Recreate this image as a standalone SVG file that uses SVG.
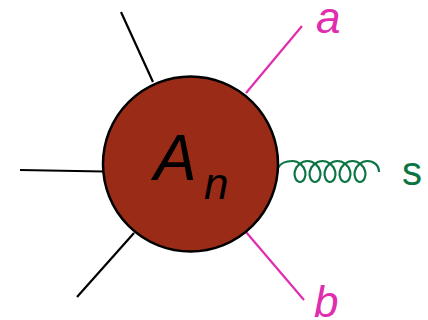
<svg xmlns="http://www.w3.org/2000/svg" width="428" height="320" viewBox="0 0 428 320">
<style>
.leg{stroke:#000;stroke-width:2.2;fill:none}
.mag{stroke:#e02db0;stroke-width:2.2;fill:none}
.glu{stroke:#0b7443;stroke-width:2.2;fill:none}
text{font-family:"Liberation Sans",Arial,sans-serif}
</style>
<rect width="428" height="320" fill="#fff"/>
<g id="connectors">
<line class="leg" x1="121" y1="12" x2="153" y2="82"/>
<line class="leg" x1="20" y1="170" x2="104" y2="171.5"/>
<line class="leg" x1="77" y1="297" x2="134" y2="233"/>
<line class="mag" x1="302" y1="26" x2="246" y2="93"/>
<line class="mag" x1="304" y1="300" x2="246" y2="232"/>
<path class="glu" d="M278,168 C281,162 287,161 292.5,161
C298.46,161 304,166 305.25,171.5 C306.5,177 303.46,182 300,182 C296.54,182 293.5,177 294.75,171.5 C296,166 301.54,161 307.5,161
C313.46,161 319,166 320.25,171.5 C321.5,177 318.46,182 315,182 C311.54,182 308.5,177 309.75,171.5 C311,166 316.54,161 322.5,161
C328.46,161 334,166 335.25,171.5 C336.5,177 333.46,182 330,182 C326.54,182 323.5,177 324.75,171.5 C326,166 331.54,161 337.5,161
C343.46,161 349,166 350.25,171.5 C351.5,177 348.46,182 345,182 C341.54,182 338.5,177 339.75,171.5 C341,166 346.54,161 352.5,161
C358.46,161 364,166 365.25,171.5 C366.5,177 363.46,182 360,182 C356.54,182 353.5,177 354.75,171.5 C356,166 361.54,161 367.5,161
C373.46,161 379,165 379,172"/>
</g>
<g id="An">
<circle cx="190.5" cy="164" r="87.5" fill="#992b17" stroke="#000" stroke-width="2.5"/>
<text x="154" y="180" font-size="64" font-style="italic" fill="#000">A</text>
<text x="204" y="199" font-size="44" font-style="italic" fill="#000">n</text>
</g>
<g id="label-a"><text x="316" y="33" font-size="44" font-style="italic" fill="#e02db0">a</text></g>
<g id="label-b"><text x="314" y="317" font-size="44" font-style="italic" fill="#e02db0">b</text></g>
<g id="label-s"><text x="402" y="185" font-size="40" fill="#0b7443">s</text></g>
</svg>
